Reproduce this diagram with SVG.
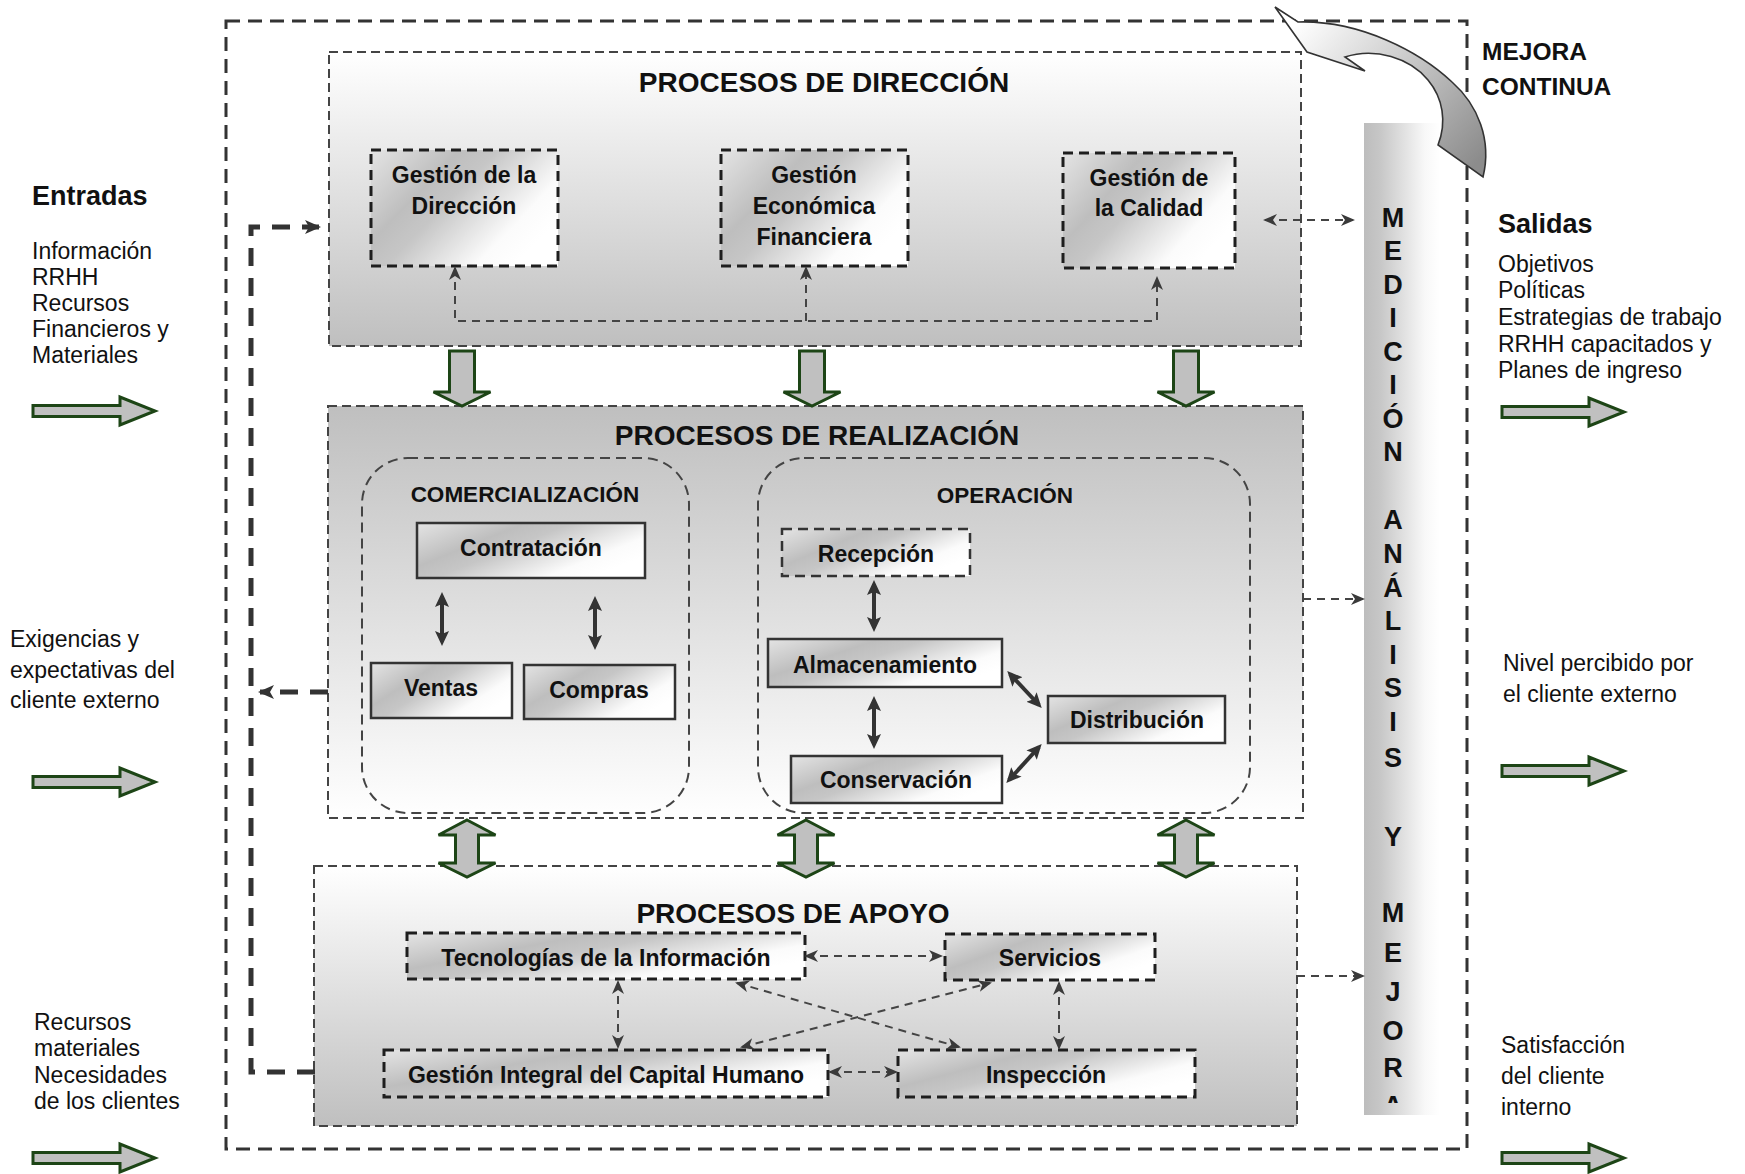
<svg xmlns="http://www.w3.org/2000/svg" xmlns:xlink="http://www.w3.org/1999/xlink" width="1745" height="1174" viewBox="0 0 1745 1174">
  <defs>
    <!-- section backgrounds -->
    <linearGradient id="fadeDown" x1="0" y1="0" x2="0" y2="1">
      <stop offset="0" stop-color="#ffffff"/>
      <stop offset="1" stop-color="#bfbfbf"/>
    </linearGradient>
    <linearGradient id="fadeUp" x1="0" y1="0" x2="0" y2="1">
      <stop offset="0" stop-color="#bfbfbf"/>
      <stop offset="1" stop-color="#ffffff"/>
    </linearGradient>
    <!-- metallic fill of the process boxes -->
    <linearGradient id="metal" x1="0" y1="0" x2="1" y2="0.6">
      <stop offset="0" stop-color="#e4e4e4"/>
      <stop offset="0.35" stop-color="#bebebe"/>
      <stop offset="0.5" stop-color="#c6c6c6"/>
      <stop offset="0.85" stop-color="#fbfbfb"/>
      <stop offset="1" stop-color="#ffffff"/>
    </linearGradient>
    <!-- vertical measurement bar -->
    <linearGradient id="barFill" x1="0" y1="0" x2="1" y2="0">
      <stop offset="0" stop-color="#bdbdbd"/>
      <stop offset="0.2" stop-color="#c6c6c6"/>
      <stop offset="0.8" stop-color="#f8f8f8"/>
      <stop offset="1" stop-color="#ffffff"/>
    </linearGradient>
    <!-- curved improvement arrow -->
    <linearGradient id="curveFill" gradientUnits="userSpaceOnUse" x1="1300" y1="20" x2="1470" y2="170">
      <stop offset="0" stop-color="#ffffff"/>
      <stop offset="0.4" stop-color="#d2d2d2"/>
      <stop offset="1" stop-color="#8c8c8c"/>
    </linearGradient>
    <clipPath id="barClip">
      <rect x="1355" y="120" width="90" height="983"/>
    </clipPath>

    <!-- arrowheads -->
    <marker id="tip" viewBox="0 0 14 12" markerWidth="14" markerHeight="12" refX="12" refY="6" orient="auto-start-reverse" markerUnits="userSpaceOnUse">
      <path d="M0,0 L14,6 L0,12 L4,6 Z" fill="#3a3a3a"/>
    </marker>
    <marker id="tipBold" viewBox="0 0 16 14" markerWidth="16" markerHeight="14" refX="14" refY="7" orient="auto-start-reverse" markerUnits="userSpaceOnUse">
      <path d="M0,0 L16,7 L0,14 L4,7 Z" fill="#333"/>
    </marker>
    <marker id="tipSolid" viewBox="0 0 15 14" markerWidth="15" markerHeight="14" refX="11" refY="7" orient="auto-start-reverse" markerUnits="userSpaceOnUse">
      <path d="M0,0 L15,7 L0,14 L3,7 Z" fill="#333"/>
    </marker>

    <!-- block arrows -->
    <path id="rArrow" d="M0,-5.5 H87 V-14 L122,0 L87,14 V5.5 H0 Z"/>
    <path id="dArrow" d="M-12.5,0 H12.5 V41 H28.5 L0,55 L-28.5,41 H-12.5 Z"/>
    <path id="vArrow" d="M0,0 L28.5,15 H11.5 V43 H28.5 L0,57 L-28.5,43 H-11.5 V15 H-28.5 Z"/>
  </defs>
  <style>
    text { font-family: "Liberation Sans", Arial, Helvetica, sans-serif; fill: #111; }
    .frame { fill: none; stroke: #333; stroke-width: 3; stroke-dasharray: 14 8; }
    .sect { stroke: #444; stroke-width: 2; stroke-dasharray: 9 5; }
    .group { fill: none; stroke: #444; stroke-width: 2; stroke-dasharray: 10 6; }
    .boxd { fill: url(#metal); stroke: #1e1e1e; stroke-width: 3; stroke-dasharray: 10 6; }
    .boxt { fill: url(#metal); stroke: #333; stroke-width: 2.5; stroke-dasharray: 10 6; }
    .boxs { fill: url(#metal); stroke: #333; stroke-width: 2.5; }
    .lbl { font-weight: bold; font-size: 23px; text-anchor: middle; }
    .title { font-weight: bold; font-size: 28px; text-anchor: middle; }
    .sub { font-weight: bold; font-size: 22.5px; text-anchor: middle; }
    .txt { font-size: 23px; }
    .head { font-weight: bold; font-size: 27px; }
    .mejora { font-weight: bold; font-size: 24.5px; }
    .letter { font-weight: bold; font-size: 27px; text-anchor: middle; }
    .conn { fill: none; stroke: #444; stroke-width: 2; stroke-dasharray: 8 6; }
    .thick { fill: none; stroke: #333; stroke-width: 5; stroke-dasharray: 18 12; }
    .solid { fill: none; stroke: #333; stroke-width: 4; }
    .flow { fill: #c0c0c0; stroke: #1d4516; stroke-width: 3; }
  </style>

  <rect width="1745" height="1174" fill="#ffffff"/>

  <!-- organisation boundary -->
  <rect id="frame" class="frame" x="226" y="21" width="1241" height="1128"/>

  <!-- measurement, analysis and improvement bar -->
  <g id="medicion">
    <rect x="1364" y="123" width="76" height="992" fill="url(#barFill)"/>
    <g clip-path="url(#barClip)">
      <text class="letter" x="1393" y="227">M</text>
      <text class="letter" x="1393" y="260">E</text>
      <text class="letter" x="1393" y="294">D</text>
      <text class="letter" x="1393" y="327">I</text>
      <text class="letter" x="1393" y="361">C</text>
      <text class="letter" x="1393" y="394">I</text>
      <text class="letter" x="1393" y="428">Ó</text>
      <text class="letter" x="1393" y="461">N</text>
      <text class="letter" x="1393" y="529">A</text>
      <text class="letter" x="1393" y="563">N</text>
      <text class="letter" x="1393" y="597">Á</text>
      <text class="letter" x="1393" y="630">L</text>
      <text class="letter" x="1393" y="664">I</text>
      <text class="letter" x="1393" y="697">S</text>
      <text class="letter" x="1393" y="731">I</text>
      <text class="letter" x="1393" y="767">S</text>
      <text class="letter" x="1393" y="846">Y</text>
      <text class="letter" x="1393" y="922">M</text>
      <text class="letter" x="1393" y="962">E</text>
      <text class="letter" x="1393" y="1001">J</text>
      <text class="letter" x="1393" y="1040">O</text>
      <text class="letter" x="1393" y="1077">R</text>
      <text class="letter" x="1393" y="1115">A</text>
    </g>
  </g>

  <!-- PROCESOS DE DIRECCIÓN -->
  <g id="direccion">
    <rect class="sect" x="329" y="52" width="972" height="294" fill="url(#fadeDown)"/>
    <text class="title" x="824" y="92">PROCESOS DE DIRECCIÓN</text>
  </g>
  <g id="gestion-direccion">
    <rect class="boxd" x="371" y="150" width="187" height="116"/>
    <text class="lbl" x="464" y="183">Gestión de la</text>
    <text class="lbl" x="464" y="214">Dirección</text>
  </g>
  <g id="gestion-economica">
    <rect class="boxd" x="721" y="150" width="187" height="116"/>
    <text class="lbl" x="814" y="183">Gestión</text>
    <text class="lbl" x="814" y="214">Económica</text>
    <text class="lbl" x="814" y="245">Financiera</text>
  </g>
  <g id="gestion-calidad">
    <rect class="boxd" x="1063" y="153" width="172" height="115"/>
    <text class="lbl" x="1149" y="186">Gestión de</text>
    <text class="lbl" x="1149" y="216">la Calidad</text>
  </g>

  <!-- PROCESOS DE REALIZACIÓN -->
  <g id="realizacion">
    <rect class="sect" x="328" y="406" width="975" height="412" fill="url(#fadeUp)"/>
    <text class="title" x="817" y="445">PROCESOS DE REALIZACIÓN</text>
  </g>
  <g id="comercializacion">
    <rect class="group" x="362" y="458" width="327" height="355" rx="46" ry="46"/>
    <text class="sub" x="525" y="502">COMERCIALIZACIÓN</text>
  </g>
  <g id="contratacion">
    <rect class="boxs" x="417" y="523" width="228" height="55"/>
    <text class="lbl" x="531" y="556">Contratación</text>
  </g>
  <g id="ventas">
    <rect class="boxs" x="371" y="663" width="141" height="55"/>
    <text class="lbl" x="441" y="696">Ventas</text>
  </g>
  <g id="compras">
    <rect class="boxs" x="524" y="665" width="151" height="54"/>
    <text class="lbl" x="599" y="698">Compras</text>
  </g>
  <g id="operacion">
    <rect class="group" x="758" y="458" width="492" height="355" rx="46" ry="46"/>
    <text class="sub" x="1005" y="503">OPERACIÓN</text>
  </g>
  <g id="recepcion">
    <rect class="boxt" x="782" y="529" width="188" height="47"/>
    <text class="lbl" x="876" y="562">Recepción</text>
  </g>
  <g id="almacenamiento">
    <rect class="boxs" x="768" y="639" width="234" height="48"/>
    <text class="lbl" x="885" y="673">Almacenamiento</text>
  </g>
  <g id="distribucion">
    <rect class="boxs" x="1048" y="696" width="177" height="47"/>
    <text class="lbl" x="1137" y="728">Distribución</text>
  </g>
  <g id="conservacion">
    <rect class="boxs" x="791" y="756" width="211" height="47"/>
    <text class="lbl" x="896" y="788">Conservación</text>
  </g>

  <!-- PROCESOS DE APOYO -->
  <g id="apoyo">
    <rect class="sect" x="314" y="866" width="983" height="260" fill="url(#fadeDown)"/>
    <text class="title" x="793" y="923">PROCESOS DE APOYO</text>
  </g>
  <g id="tecnologias">
    <rect class="boxd" x="407" y="933" width="398" height="46"/>
    <text class="lbl" x="606" y="966">Tecnologías de la Información</text>
  </g>
  <g id="servicios">
    <rect class="boxd" x="945" y="934" width="210" height="46"/>
    <text class="lbl" x="1050" y="966">Servicios</text>
  </g>
  <g id="capital-humano">
    <rect class="boxd" x="384" y="1050" width="444" height="47"/>
    <text class="lbl" x="606" y="1083">Gestión Integral del Capital Humano</text>
  </g>
  <g id="inspeccion">
    <rect class="boxd" x="898" y="1050" width="297" height="47"/>
    <text class="lbl" x="1046" y="1083">Inspección</text>
  </g>

  <!-- inputs -->
  <g id="entradas">
    <text class="head" x="32" y="205">Entradas</text>
    <text class="txt" x="32" y="259">Información</text>
    <text class="txt" x="32" y="285">RRHH</text>
    <text class="txt" x="32" y="311">Recursos</text>
    <text class="txt" x="32" y="337">Financieros y</text>
    <text class="txt" x="32" y="363">Materiales</text>
  </g>
  <g id="exigencias">
    <text class="txt" x="10" y="647">Exigencias y</text>
    <text class="txt" x="10" y="678">expectativas del</text>
    <text class="txt" x="10" y="708">cliente externo</text>
  </g>
  <g id="recursos">
    <text class="txt" x="34" y="1030">Recursos</text>
    <text class="txt" x="34" y="1056">materiales</text>
    <text class="txt" x="34" y="1083">Necesidades</text>
    <text class="txt" x="34" y="1109">de los clientes</text>
  </g>

  <!-- outputs -->
  <g id="salidas">
    <text class="head" x="1498" y="233">Salidas</text>
    <text class="txt" x="1498" y="272">Objetivos</text>
    <text class="txt" x="1498" y="298">Políticas</text>
    <text class="txt" x="1498" y="325">Estrategias de trabajo</text>
    <text class="txt" x="1498" y="352">RRHH capacitados y</text>
    <text class="txt" x="1498" y="378">Planes de ingreso</text>
  </g>
  <g id="nivel-percibido">
    <text class="txt" x="1503" y="671">Nivel percibido por</text>
    <text class="txt" x="1503" y="702">el cliente externo</text>
  </g>
  <g id="satisfaccion">
    <text class="txt" x="1501" y="1053">Satisfacción</text>
    <text class="txt" x="1501" y="1084">del cliente</text>
    <text class="txt" x="1501" y="1115">interno</text>
  </g>
  <g id="mejora-continua">
    <text class="mejora" x="1482" y="60">MEJORA</text>
    <text class="mejora" x="1482" y="95">CONTINUA</text>
  </g>

  <!-- connectors -->
  <g id="connectors">
    <!-- flow arrows in and out -->
    <use href="#rArrow" class="flow" x="33" y="411"/>
    <use href="#rArrow" class="flow" x="33" y="782"/>
    <use href="#rArrow" class="flow" x="33" y="1158"/>
    <use href="#rArrow" class="flow" x="1502" y="412"/>
    <use href="#rArrow" class="flow" x="1502" y="771"/>
    <use href="#rArrow" class="flow" x="1502" y="1158"/>

    <!-- direction to realisation -->
    <use href="#dArrow" class="flow" x="462" y="351"/>
    <use href="#dArrow" class="flow" x="812" y="351"/>
    <use href="#dArrow" class="flow" x="1186" y="351"/>

    <!-- realisation to support -->
    <use href="#vArrow" class="flow" x="467" y="820"/>
    <use href="#vArrow" class="flow" x="806" y="820"/>
    <use href="#vArrow" class="flow" x="1186" y="820"/>

    <!-- feedback inside the direction block -->
    <path class="conn" d="M455,268 V321 H1157 V278" marker-start="url(#tip)" marker-end="url(#tip)"/>
    <path class="conn" d="M806,321 V268" marker-end="url(#tip)"/>

    <!-- links to the measurement bar -->
    <path class="conn" d="M1265,220 H1353" marker-start="url(#tip)" marker-end="url(#tip)"/>
    <path class="conn" d="M1303,599 H1363" marker-end="url(#tip)"/>
    <path class="conn" d="M1297,976 H1363" marker-end="url(#tip)"/>

    <!-- left feedback loops -->
    <path class="thick" d="M315,1072 H251 V227 H319" marker-end="url(#tipBold)"/>
    <path class="thick" d="M328,692 H260" marker-end="url(#tipBold)"/>

    <!-- commercialisation -->
    <path class="solid" d="M442,596 V642" marker-start="url(#tipSolid)" marker-end="url(#tipSolid)"/>
    <path class="solid" d="M595,600 V646" marker-start="url(#tipSolid)" marker-end="url(#tipSolid)"/>

    <!-- operation -->
    <path class="solid" d="M874,584 V628" marker-start="url(#tipSolid)" marker-end="url(#tipSolid)"/>
    <path class="solid" d="M874,700 V745" marker-start="url(#tipSolid)" marker-end="url(#tipSolid)"/>
    <path class="solid" d="M1010,674 L1039,705" marker-start="url(#tipSolid)" marker-end="url(#tipSolid)"/>
    <path class="solid" d="M1009,780 L1039,747" marker-start="url(#tipSolid)" marker-end="url(#tipSolid)"/>

    <!-- support -->
    <path class="conn" d="M806,956 H941" marker-start="url(#tip)" marker-end="url(#tip)"/>
    <path class="conn" d="M618,982 V1047" marker-start="url(#tip)" marker-end="url(#tip)"/>
    <path class="conn" d="M1059,983 V1048" marker-start="url(#tip)" marker-end="url(#tip)"/>
    <path class="conn" d="M830,1072 H896" marker-start="url(#tip)" marker-end="url(#tip)"/>
    <path class="conn" d="M737,983 L959,1047" marker-start="url(#tip)" marker-end="url(#tip)"/>
    <path class="conn" d="M742,1047 L990,983" marker-start="url(#tip)" marker-end="url(#tip)"/>

    <!-- continuous improvement loop -->
    <path d="M1275,7 L1307,52 L1365,71 L1345,57 C1375,47 1410,58 1428,80 C1443,98 1447,122 1438,145 L1483,177 C1492,140 1478,105 1452,82 C1420,52 1360,20 1298,22 Z" fill="url(#curveFill)" stroke="#333" stroke-width="1.6" stroke-linejoin="miter"/>
  </g>
</svg>
